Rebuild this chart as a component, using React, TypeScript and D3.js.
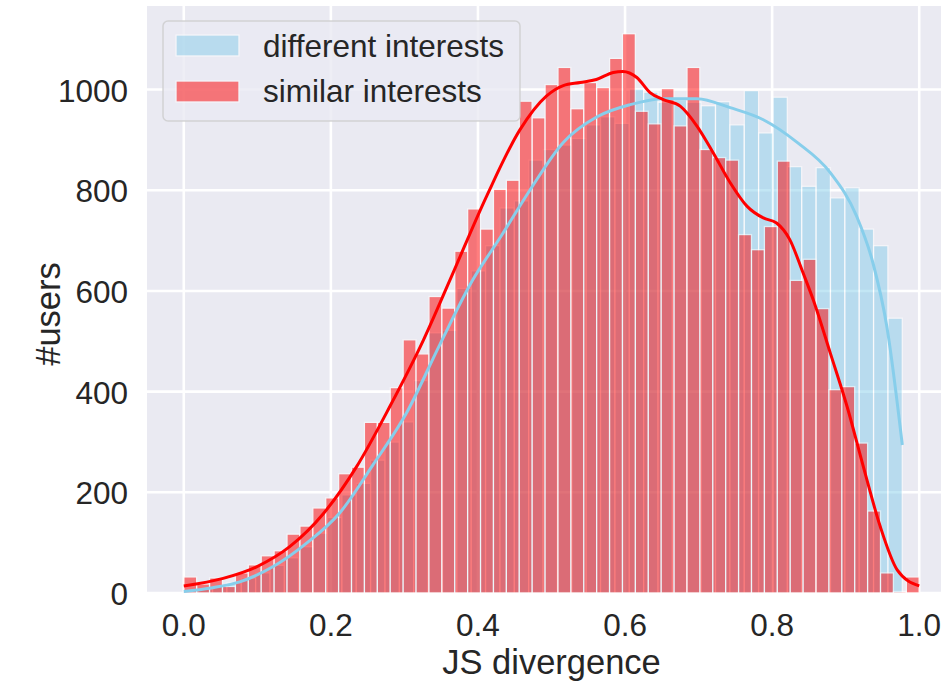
import React from 'react';
import * as d3 from 'd3';

const width = 941;
const height = 684;

// histogram counts
const redCounts = [32, 18, 30, 13, 40, 56, 74, 84, 117, 133, 169, 189, 237, 250, 339, 339, 408, 503, 475, 589,
  566, 679, 763, 723, 802, 820, 977, 944, 1010, 1044, 962, 1014, 1004, 1062, 1111, 957, 932, 1002, 928, 1044,
  881, 865, 860, 712, 682, 728, 858, 621, 663, 565, 404, 410, 298, 163, 40, 3, 32];
const redRange = [0, 1.0];

const blueCounts = [5, 8, 14, 20, 30, 40, 55, 70, 92, 119, 150, 195, 218, 264, 300, 340, 422, 517, 522, 605,
  640, 690, 765, 779, 860, 881, 890, 903, 930, 946, 933, 1001, 995, 975, 980, 975, 968, 976, 930, 998,
  914, 985, 847, 808, 845, 785, 805, 723, 690, 546];
const blueRange = [0, 0.977];

// kde curves, [x, count]
const redKde = [[0, 14], [0.0535, 29], [0.099, 52], [0.144, 92], [0.19, 158], [0.235, 251], [0.28, 370],
  [0.326, 503], [0.362, 622], [0.412, 789], [0.457, 920], [0.493, 987], [0.516, 1008], [0.539, 1014],
  [0.561, 1020], [0.584, 1034], [0.597, 1036], [0.616, 1024], [0.634, 994], [0.652, 980], [0.675, 967],
  [0.698, 927], [0.72, 874], [0.743, 815], [0.766, 768], [0.788, 745], [0.806, 735], [0.824, 702],
  [0.842, 636], [0.856, 582], [0.879, 477], [0.902, 370], [0.924, 251], [0.947, 132], [0.97, 46], [1.0, 14]];
const blueKde = [[0, 3], [0.037, 10], [0.076, 22], [0.121, 52], [0.167, 99], [0.212, 159], [0.257, 254],
  [0.303, 358], [0.348, 493], [0.393, 622], [0.432, 710], [0.471, 801], [0.516, 895], [0.562, 946],
  [0.607, 970], [0.652, 982], [0.698, 982], [0.743, 964], [0.788, 940], [0.834, 895], [0.879, 835],
  [0.915, 748], [0.937, 656], [0.956, 529], [0.977, 294]];

const xTicks = [0, 0.2, 0.4, 0.6, 0.8, 1.0];
const yTicks = [0, 200, 400, 600, 800, 1000];
const labels = ['different interests', 'similar interests'];

const BLUE = '#87ceeb';
const RED = '#ff0000';
const FONT = '"Liberation Sans", Arial, sans-serif';

const plot = { left: 147, right: 956, top: 6, bottom: 593 };

const x = d3.scaleLinear().domain([-0.05, 1.05]).range([plot.left, plot.right]);
const y = d3.scaleLinear().domain([0, 1166]).range([plot.bottom, plot.top]);

const bins = (counts, range) => {
  const edge = d3.scaleLinear().domain([0, counts.length]).range(range);
  return counts.map((c, i) => ({ x0: edge(i), x1: edge(i + 1), c }));
};

const line = d3.line().x(d => x(d[0])).y(d => y(d[1])).curve(d3.curveMonotoneX);

const Bars = ({ data, color }) => (
  <g>
    {data.map((b, i) => (
      <rect key={i} x={x(b.x0)} y={y(b.c)} width={x(b.x1) - x(b.x0)} height={y(0) - y(b.c)}
        fill={color} stroke='#ffffff' strokeWidth={1.3} opacity={0.5} />
    ))}
  </g>
);

export default function App() {
  return (
    <svg width={width} height={height} style={{ position: 'absolute', left: 0, top: 0 }}>
      <rect x={0} y={0} width={width} height={height} fill='#ffffff' />
      <rect x={plot.left} y={plot.top} width={plot.right - plot.left} height={plot.bottom - plot.top} fill='#eaeaf2' />
      {xTicks.map(t => (
        <line key={'gx' + t} x1={x(t)} x2={x(t)} y1={plot.top} y2={plot.bottom} stroke='#ffffff' strokeWidth={2.6} />
      ))}
      {yTicks.map(t => (
        <line key={'gy' + t} x1={plot.left} x2={plot.right} y1={y(t)} y2={y(t)} stroke='#ffffff' strokeWidth={2.6} />
      ))}
      <Bars data={bins(blueCounts, blueRange)} color={BLUE} />
      <Bars data={bins(redCounts, redRange)} color={RED} />
      <path d={line(blueKde)} fill='none' stroke={BLUE} strokeWidth={3} />
      <path d={line(redKde)} fill='none' stroke={RED} strokeWidth={3} />

      {xTicks.map(t => (
        <text key={'tx' + t} x={x(t)} y={636} textAnchor='middle' fontFamily={FONT} fontSize={31.5} fill='#262626'>
          {t.toFixed(1)}
        </text>
      ))}
      {yTicks.map(t => (
        <text key={'ty' + t} x={128} y={y(t) + 12} textAnchor='end' fontFamily={FONT} fontSize={31.5} fill='#262626'>
          {t}
        </text>
      ))}
      <text x={(plot.left + plot.right) / 2} y={674} textAnchor='middle' fontFamily={FONT} fontSize={34.5} fill='#262626'>
        JS divergence
      </text>
      <text transform='translate(60,314) rotate(-90)' textAnchor='middle'
        fontFamily={FONT} fontSize={34.5} fill='#262626'>
        #users
      </text>

      <g>
        <rect x={163} y={21} width={357} height={100} rx={5} fill='#eaeaf2' fillOpacity={0.8}
          stroke='#cccccc' strokeOpacity={0.8} strokeWidth={1.5} />
        {labels.map((l, i) => (
          <g key={l}>
            <rect x={176} y={35 + i * 46} width={63} height={21} fill={i === 0 ? BLUE : RED}
              stroke='#ffffff' strokeWidth={1.3} opacity={0.5} />
            <text x={263} y={57 + i * 45} fontFamily={FONT} fontSize={31.5} fill='#262626'>{l}</text>
          </g>
        ))}
      </g>
    </svg>
  );
}
